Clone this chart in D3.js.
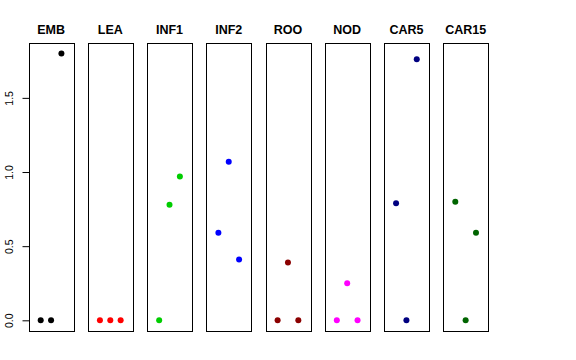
<!DOCTYPE html>
<html>
<head>
<meta charset="utf-8">
<script src="https://cdn.jsdelivr.net/npm/d3@7"></script>
<style>
  body { margin: 0; background: #fff; }
  svg { display: block; font-family: "Liberation Sans", Arial, sans-serif; }
</style>
</head>
<body>
<svg id="chart" width="576" height="360"></svg>
<script>
// tissue panels, three replicates each
const tissues = ["EMB", "LEA", "INF1", "INF2", "ROO", "NOD", "CAR5", "CAR15"];
const rep1 = [0, 0, 0, 0.59, 0, 0, 0.79, 0.80];
const rep2 = [0, 0, 0.78, 1.07, 0.39, 0.25, 0, 0];
const rep3 = [1.80, 0, 0.97, 0.41, 0, 0, 1.76, 0.59];
const colors = ["#000000", "#ff0000", "#00cd00", "#0000ff", "#8b0000", "#ff00ff", "#000080", "#006400"];
const yTicks = [0, 0.5, 1.0, 1.5];

const svg = d3.select("#chart");

const plotTop = 42.7, plotBottom = 331;

// panels across the page
const panelX = d3.scaleBand()
    .domain(tissues)
    .range([28.7, 488])
    .paddingInner(0.245)
    .paddingOuter(0);

// R style: limits [0, 1.8] padded by 4%
const yMax = d3.max([...rep1, ...rep2, ...rep3]);
const yPad = yMax * 0.04;
const y = d3.scaleLinear()
    .domain([-yPad, yMax + yPad])
    .range([plotBottom, plotTop]);

tissues.forEach((t, i) => {
    const x0 = panelX(t);
    const w = panelX.bandwidth();
    const x = d3.scaleLinear()
        .domain([-0.16, 4.16])
        .range([x0, x0 + w]);

    const g = svg.append("g");

    g.append("rect")
        .attr("x", Math.round(x0) + 0.5)
        .attr("y", Math.round(plotTop) + 0.5)
        .attr("width", Math.round(w))
        .attr("height", Math.round(plotBottom - plotTop))
        .attr("fill", "none")
        .attr("stroke", "#000")
        .attr("stroke-width", 1);

    const vals = [rep1[i], rep2[i], rep3[i]];
    g.selectAll("circle")
        .data(vals)
        .enter().append("circle")
        .attr("cx", (d, j) => x(j + 1))
        .attr("cy", d => y(d))
        .attr("r", 3)
        .attr("fill", colors[i]);

    g.append("text")
        .attr("x", x0 + w / 2)
        .attr("y", 34)
        .attr("text-anchor", "middle")
        .attr("font-weight", "bold")
        .attr("font-size", "12.5px")
        .text(t);
});

// left axis on the first panel
const axis = d3.axisLeft(y)
    .tickValues(yTicks)
    .tickFormat(d3.format(".1f"))
    .tickSize(7)
    .tickPadding(0);

const ax = svg.append("g")
    .attr("transform", `translate(${Math.round(panelX(tissues[0])) + 0.5},0)`)
    .call(axis);

ax.select(".domain")
    .attr("d", `M0,${y(0)}V${y(1.5)}`)
    .attr("stroke", "#000");
ax.selectAll(".tick line").attr("stroke", "#000");
ax.selectAll(".tick text")
    .attr("font-size", "10.5px")
    .attr("font-family", "Liberation Sans, Arial, sans-serif")
    .attr("fill", "#000")
    .attr("text-anchor", "middle")
    .attr("dy", null)
    .attr("x", null)
    .attr("transform", "translate(-17,0) rotate(-90)");
</script>
</body>
</html>
